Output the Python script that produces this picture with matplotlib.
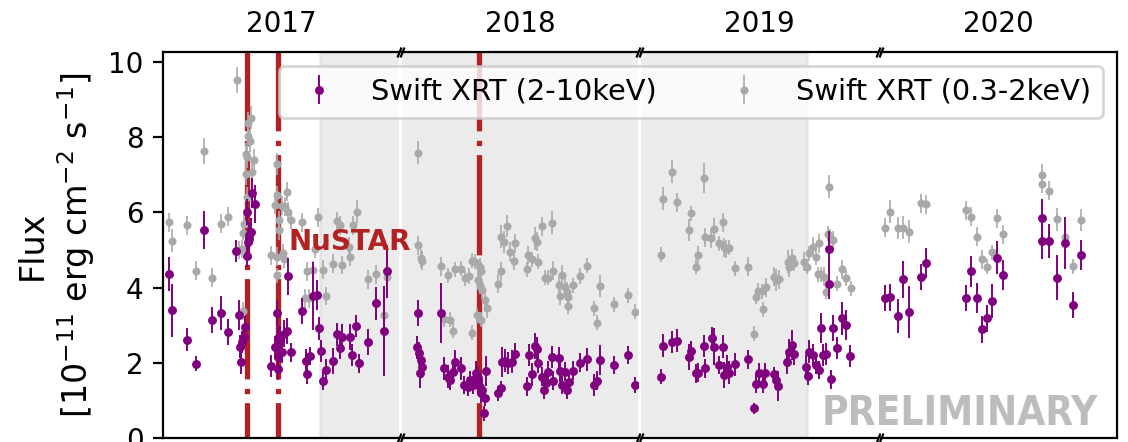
import numpy as np
import matplotlib
matplotlib.use("Agg")
import matplotlib.pyplot as plt

# Swift XRT 2-10 keV light curve (MJD, flux, 1-sigma error), 1e-11 erg/cm2/s
hard_mjd = np.array([
    57806.3, 57808.7, 57824.3, 57833.0, 57841.0, 57848.7, 57857.7, 57865.3, 57872.7, 57876.0,
    57877.0, 57878.0, 57878.7, 57881.0, 57882.0, 57884.3, 57884.0, 57885.3, 57886.3, 57887.7,
    57885.5, 57889.0, 57891.7, 57908.0, 57912.0, 57914.3, 57914.7, 57915.3, 57915.3, 57917.0,
    57918.7, 57921.0, 57923.7, 57925.3, 57928.0, 57939.3, 57942.7, 57943.7, 57947.0, 57950.3,
    57953.7, 57955.7, 57957.7, 57959.7, 57963.0, 57970.3, 57973.7, 57977.0, 57979.3, 57987.0,
    57989.3, 57993.0, 57996.3, 58004.7, 58012.3, 58021.0, 58023.7,
    58180.3, 58180.0, 58181.7, 58183.7, 58185.0, 58182.7, 58203.7, 58207.0, 58211.0, 58212.7,
    58216.0, 58217.7, 58223.7, 58227.0, 58231.0, 58232.7, 58236.0, 58238.3, 58241.0, 58242.7,
    58243.7, 58245.0, 58248.3, 58248.0, 58247.0, 58261.0, 58263.7, 58264.3, 58267.7, 58271.0,
    58274.3, 58277.7, 58289.3, 58291.7, 58294.3, 58297.7, 58299.3, 58301.0, 58304.3, 58307.0,
    58308.3, 58311.0, 58315.0, 58316.0, 58321.7, 58322.7, 58324.3, 58327.7, 58329.3, 58331.7,
    58335.3, 58342.7, 58350.0, 58357.0, 58359.3, 58362.7, 58377.0, 58391.0, 58397.7,
    58549.3, 58552.0, 58560.0, 58565.0, 58577.7, 58579.3, 58584.3, 58586.7, 58592.7, 58593.2,
    58600.0, 58602.0, 58607.7, 58611.0, 58612.7, 58615.3, 58617.7, 58623.3, 58636.0, 58642.0,
    58644.7, 58647.7, 58651.0, 58653.3, 58662.0, 58664.3, 58666.7, 58675.3, 58677.7, 58680.0,
    58682.7, 58694.3, 58696.0, 58697.7, 58701.0, 58704.3, 58707.0, 58709.3, 58711.0, 58714.3,
    58717.0, 58717.5, 58719.3, 58721.0, 58725.0, 58730.0, 58734.3, 58738.7,
    58899.0, 58904.7, 58912.3, 58917.7, 58923.0, 58935.0, 58940.7, 58980.0, 58985.0, 58990.7,
    58995.7, 59001.0, 59006.3, 59011.3, 59016.7, 59055.7, 59056.3, 59063.0, 59071.0, 59079.0,
    59087.0, 59094.7,
])
hard_flux = np.array([
    4.36, 3.40, 2.62, 1.97, 5.53, 3.14, 3.32, 2.82, 4.98, 3.27,
    2.43, 2.01, 2.55, 2.69, 2.94, 4.85, 6.02, 5.22, 5.40, 5.49,
    5.30, 6.51, 6.22, 1.91, 2.41, 3.32, 2.65, 2.16, 1.84, 2.69,
    2.30, 2.78, 2.85, 4.30, 2.28, 3.38, 2.06, 1.69, 2.18, 3.78,
    3.80, 2.92, 2.31, 1.52, 1.81, 2.05, 2.76, 2.39, 2.68, 2.69,
    2.21, 2.98, 1.99, 2.55, 3.58, 2.85, 4.43,
    3.33, 2.41, 2.25, 2.07, 1.90, 1.72, 3.32, 1.85, 1.63, 1.54,
    1.76, 2.03, 1.85, 1.41, 1.36, 1.54, 1.41, 1.74, 1.59, 1.36,
    1.19, 1.28, 1.79, 1.06, 0.66, 1.19, 1.32, 2.03, 2.06, 1.99,
    2.03, 2.23, 1.38, 2.21, 1.69, 2.45, 2.38, 1.99, 1.63, 1.29,
    1.45, 1.76, 2.15, 1.52, 2.12, 1.78, 1.41, 1.76, 1.29, 1.50,
    1.79, 2.00, 2.09, 1.41, 1.52, 2.07, 1.94, 2.21, 1.41,
    1.63, 2.46, 2.56, 2.59, 2.15, 2.32, 1.72, 1.74, 2.45, 1.85,
    2.65, 2.43, 1.94, 2.43, 1.68, 1.90, 1.74, 1.96, 2.09, 0.79,
    1.44, 1.74, 1.44, 1.74, 1.70, 1.54, 1.38, 2.01, 2.28, 2.47,
    2.23, 1.90, 1.65, 2.30, 2.21, 1.94, 1.81, 2.92, 2.21, 2.23,
    5.02, 4.11, 1.56, 2.92, 2.39, 3.18, 3.01, 2.18,
    3.72, 3.74, 3.24, 4.22, 3.35, 4.29, 4.66, 3.72, 4.43, 3.72,
    2.89, 3.18, 3.64, 4.80, 4.33, 5.86, 5.25, 5.25, 4.27, 5.19,
    3.53, 4.87,
])
hard_err = np.array([
    0.45, 0.70, 0.30, 0.20, 0.50, 0.35, 0.45, 0.35, 0.30, 0.40,
    0.30, 0.30, 0.30, 0.30, 0.30, 0.30, 0.35, 0.35, 0.35, 0.35,
    0.30, 0.40, 0.50, 0.30, 0.30, 0.35, 0.30, 0.30, 0.30, 0.30,
    0.30, 0.35, 0.35, 0.50, 0.25, 0.35, 0.30, 0.25, 0.25, 0.90,
    0.40, 0.30, 0.30, 0.25, 0.30, 0.35, 0.30, 0.30, 0.35, 0.35,
    0.30, 0.30, 0.25, 0.35, 0.45, 1.20, 0.70,
    0.35, 0.30, 0.30, 0.30, 0.30, 0.40, 0.80, 0.30, 0.30, 0.25,
    0.30, 0.30, 0.30, 0.25, 0.25, 0.25, 0.25, 0.30, 0.30, 0.25,
    0.25, 0.30, 0.40, 0.20, 0.20, 0.20, 0.20, 0.40, 0.30, 0.30,
    0.30, 0.30, 0.25, 0.30, 0.30, 0.35, 0.30, 0.25, 0.25, 0.25,
    0.25, 0.30, 0.30, 0.25, 0.30, 0.30, 0.25, 0.25, 0.25, 0.25,
    0.25, 0.25, 0.30, 0.30, 0.25, 0.40, 0.25, 0.25, 0.20,
    0.20, 0.30, 0.30, 0.30, 0.35, 0.25, 0.25, 0.25, 0.30, 0.25,
    0.30, 0.50, 0.25, 0.30, 0.35, 0.30, 0.30, 0.30, 0.25, 0.15,
    0.25, 0.25, 0.25, 0.25, 0.20, 0.25, 0.40, 0.30, 0.35, 0.40,
    0.30, 0.30, 0.25, 0.30, 0.30, 0.25, 0.25, 0.40, 0.30, 0.30,
    0.50, 0.40, 0.25, 0.35, 0.30, 0.45, 0.40, 0.30,
    0.35, 0.35, 0.45, 0.50, 0.70, 0.35, 0.40, 0.35, 0.40, 0.40,
    0.35, 0.35, 0.45, 0.45, 0.40, 0.50, 0.50, 0.45, 0.60, 0.70,
    0.35, 0.40,
])

# Swift XRT 0.3-2 keV light curve (MJD, flux, 1-sigma error)
soft_mjd = np.array([
    57806.3, 57808.7, 57824.3, 57833.0, 57841.0, 57848.7, 57857.7, 57865.3, 57873.7, 57876.0,
    57878.7, 57880.3, 57881.0, 57880.3, 57883.7, 57883.2, 57883.7, 57883.0, 57884.7, 57885.3,
    57887.0, 57887.5, 57888.7, 57891.3, 57908.0, 57914.3, 57914.3, 57912.0, 57916.0, 57916.0,
    57914.3, 57914.3, 57918.7, 57924.3, 57922.0, 57925.3, 57927.7, 57920.3, 57921.0, 57939.3,
    57955.3, 57943.7, 57949.7, 57960.3, 57970.3, 57979.0, 57987.0, 57986.3, 57973.7, 57977.0,
    57989.7, 57993.7, 57942.0, 57946.3, 57963.0, 58004.3, 58012.7, 58023.7, 58021.0, 57952.0,
    58180.3, 58181.0, 58183.7, 58184.3, 58203.7, 58211.0, 58217.7, 58223.7, 58227.7, 58231.7,
    58234.3, 58237.7, 58242.7, 58243.2, 58241.0, 58242.7, 58245.0, 58247.7, 58249.3, 58239.3,
    58243.7, 58207.0, 58212.7, 58216.0, 58234.3, 58261.0, 58263.7, 58263.2, 58267.0, 58269.3,
    58273.0, 58276.3, 58277.7, 58289.3, 58291.0, 58294.3, 58297.7, 58299.3, 58301.0, 58304.3,
    58307.7, 58310.3, 58315.0, 58316.0, 58321.7, 58324.3, 58327.7, 58329.3, 58331.0, 58322.7,
    58330.3, 58335.3, 58342.7, 58350.0, 58357.0, 58359.3, 58362.7, 58377.0, 58391.0, 58397.7,
    58549.3, 58552.0, 58560.0, 58565.0, 58577.7, 58579.3, 58584.3, 58586.0, 58592.7, 58593.2,
    58599.3, 58602.0, 58607.7, 58611.0, 58612.0, 58614.3, 58617.7, 58623.3, 58636.0, 58642.0,
    58644.7, 58646.7, 58650.0, 58651.0, 58654.3, 58662.0, 58664.3, 58667.7, 58676.0, 58677.7,
    58680.0, 58682.0, 58692.7, 58695.3, 58697.7, 58701.0, 58704.3, 58707.7, 58706.0, 58709.3,
    58712.7, 58714.3, 58716.0, 58718.7, 58721.0, 58717.7, 58725.0, 58730.0, 58734.3, 58739.3,
    58899.0, 58904.7, 58912.3, 58917.7, 58923.0, 58935.0, 58940.7, 58980.0, 58985.0, 58990.7,
    58995.7, 59001.0, 59006.3, 59011.3, 59016.7, 59055.7, 59056.3, 59063.0, 59071.0, 59079.0,
    59087.0, 59094.7,
])
soft_flux = np.array([
    5.74, 5.25, 5.66, 4.45, 7.64, 4.27, 5.70, 5.89, 9.52, 5.00,
    5.03, 3.38, 5.69, 5.46, 6.42, 7.02, 7.47, 7.55, 8.37, 8.03,
    7.91, 8.52, 7.09, 7.39, 4.86, 7.29, 6.46, 6.20, 5.80, 5.53,
    4.82, 4.33, 6.18, 6.55, 6.15, 6.02, 5.80, 4.91, 4.76, 5.74,
    5.87, 4.43, 4.47, 4.48, 4.64, 4.60, 4.82, 5.09, 5.76, 5.66,
    5.66, 6.02, 3.72, 3.72, 3.78, 4.22, 4.36, 4.28, 3.27, 5.03,
    7.59, 5.13, 4.78, 4.72, 4.57, 4.33, 4.49, 4.50, 4.25, 4.31,
    4.72, 4.69, 4.54, 4.43, 4.20, 4.07, 3.94, 3.67, 3.45, 3.27,
    3.14, 3.16, 3.14, 2.85, 2.80, 4.10, 4.43, 5.36, 5.22, 5.64,
    4.96, 4.72, 5.18, 4.49, 4.87, 4.75, 5.31, 5.22, 4.69, 5.63,
    4.27, 4.27, 5.73, 4.45, 4.07, 4.34, 4.01, 3.89, 3.76, 3.78,
    3.51, 4.07, 4.31, 4.58, 3.45, 3.07, 4.04, 3.56, 3.80, 3.36,
    4.87, 6.37, 7.09, 6.27, 5.53, 5.98, 4.56, 4.87, 6.91, 5.34,
    5.31, 5.55, 5.18, 5.74, 5.07, 5.03, 5.06, 4.51, 4.56, 2.78,
    3.76, 3.92, 3.90, 3.42, 4.01, 4.29, 4.20, 4.22, 4.69, 4.54,
    4.78, 4.65, 4.69, 4.56, 4.91, 5.09, 4.81, 5.18, 4.36, 4.36,
    4.29, 3.89, 5.44, 5.36, 5.27, 6.69, 4.11, 4.49, 4.25, 3.98,
    5.60, 6.02, 5.59, 5.60, 5.49, 6.24, 6.22, 6.06, 5.89, 5.36,
    4.75, 4.56, 4.94, 5.84, 5.42, 6.99, 6.76, 6.58, 5.82, 5.36,
    4.57, 5.80,
])
soft_err = np.array([
    0.25, 0.30, 0.25, 0.25, 0.35, 0.25, 0.25, 0.25, 0.35, 0.25,
    0.25, 0.25, 0.25, 0.20, 0.25, 0.30, 0.30, 0.30, 0.30, 0.30,
    0.30, 0.30, 0.30, 0.30, 0.25, 0.30, 0.25, 0.25, 0.25, 0.25,
    0.25, 0.20, 0.25, 0.25, 0.25, 0.25, 0.25, 0.25, 0.25, 0.25,
    0.25, 0.25, 0.25, 0.25, 0.25, 0.25, 0.25, 0.25, 0.25, 0.25,
    0.25, 0.30, 0.25, 0.25, 0.25, 0.25, 0.25, 0.30, 0.25, 0.25,
    0.30, 0.25, 0.25, 0.25, 0.25, 0.20, 0.20, 0.20, 0.20, 0.20,
    0.20, 0.20, 0.25, 0.25, 0.25, 0.25, 0.25, 0.25, 0.25, 0.20,
    0.20, 0.20, 0.20, 0.20, 0.20, 0.25, 0.25, 0.30, 0.30, 0.30,
    0.25, 0.25, 0.25, 0.20, 0.25, 0.20, 0.30, 0.25, 0.20, 0.25,
    0.20, 0.20, 0.30, 0.25, 0.25, 0.25, 0.25, 0.25, 0.20, 0.25,
    0.20, 0.20, 0.20, 0.20, 0.20, 0.20, 0.30, 0.20, 0.20, 0.20,
    0.20, 0.30, 0.30, 0.25, 0.30, 0.20, 0.20, 0.25, 0.40, 0.25,
    0.25, 0.30, 0.20, 0.25, 0.25, 0.25, 0.20, 0.20, 0.25, 0.20,
    0.20, 0.20, 0.20, 0.20, 0.25, 0.25, 0.30, 0.25, 0.30, 0.25,
    0.25, 0.20, 0.25, 0.20, 0.20, 0.25, 0.20, 0.25, 0.20, 0.20,
    0.25, 0.20, 0.20, 0.20, 0.25, 0.30, 0.20, 0.25, 0.20, 0.20,
    0.25, 0.30, 0.30, 0.30, 0.30, 0.25, 0.25, 0.25, 0.25, 0.25,
    0.25, 0.20, 0.20, 0.25, 0.25, 0.30, 0.25, 0.25, 0.30, 0.30,
    0.20, 0.30,
])

# observing seasons shown in the four panels
season_limits = [(57800, 58036), (58165, 58401), (58530, 58766), (58895, 59131)]
season_labels = ["2017", "2018", "2019", "2020"]
# NuSTAR pointings and the shaded monitoring window
nustar_mjd = [57883.7, 57914.7, 58242.0]
shaded_window = (57957, 58695)

fig, axes = plt.subplots(1, 4, figsize=(5.64, 2.21), dpi=200, sharey=True)
fig.subplots_adjust(left=0.1445, right=0.9902, top=0.8824, bottom=0.00905, wspace=0.0127)

for i, ax in enumerate(axes):
    ax.axvspan(*shaded_window, color="lightgray", alpha=0.45, zorder=0)
    for t in nustar_mjd:
        ax.axvline(t, color="firebrick", lw=1.9,
                   linestyle=(12.3, (19, 1.7, 1, 1.8)), zorder=1)
    h_hard = ax.errorbar(hard_mjd, hard_flux, yerr=hard_err, fmt="o", color="purple",
                         ms=2.2, elinewidth=0.7, capsize=0, zorder=3)
    h_soft = ax.errorbar(soft_mjd, soft_flux, yerr=soft_err, fmt="o", color="darkgray",
                         ms=1.9, elinewidth=0.6, capsize=0, zorder=2)
    ax.set_xlim(season_limits[i])
    ax.set_ylim(0, 10.27)
    ax.set_xticks([])
    ax.annotate(season_labels[i], xy=(0.5, 1.0), xycoords="axes fraction",
                xytext=(0, 7.2), textcoords="offset points",
                ha="center", va="baseline", fontsize=10)
    if i > 0:
        ax.spines["left"].set_visible(False)
        ax.tick_params(axis="y", left=False, labelleft=False)
    if i < 3:
        ax.spines["right"].set_visible(False)

axes[0].set_yticks([0, 2, 4, 6, 8, 10])
axes[0].set_ylabel("Flux\n[10$^{-11}$ erg cm$^{-2}$ s$^{-1}$]", fontsize=12, labelpad=4)

# break marks between the panels
brk = dict(marker=[(-0.4, -1), (0.4, 1)], markersize=3.6, linestyle="none",
           color="k", mec="k", mew=0.8, clip_on=False)
for i in range(3):
    axes[i].plot([1, 1], [0, 1], transform=axes[i].transAxes, **brk)
    axes[i + 1].plot([0, 0], [0, 1], transform=axes[i + 1].transAxes, **brk)

axes[3].legend([h_hard, h_soft], ["Swift XRT (2-10keV)", "Swift XRT (0.3-2keV)"],
               loc="upper right", ncol=2, fontsize=10.4)

fig.text(57925.3, 5.0, "NuSTAR", transform=axes[0].transData, color="firebrick",
         fontsize=10, fontweight="bold", ha="left", va="baseline", zorder=5)
fig.text(822 / 1128, 1 - 425 / 442, "PRELIMINARY", color="#bdbdbd",
         fontsize=14.5, fontweight="bold", fontstretch="condensed",
         ha="left", va="baseline", zorder=5)

fig.savefig("out.png", dpi=200)
